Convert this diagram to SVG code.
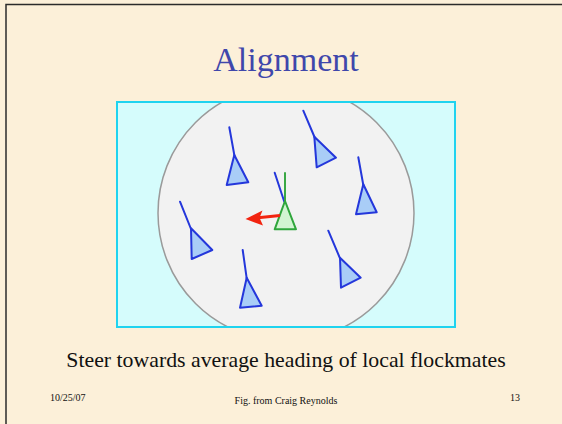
<svg xmlns="http://www.w3.org/2000/svg" width="562" height="424" viewBox="0 0 562 424">
<style>
.serif{font-family:"Liberation Serif","Times New Roman",serif}
.boid polygon{fill:#a9cdf7;stroke:#2437db;stroke-width:2;stroke-linejoin:round}
.tail{stroke:#2437db;stroke-width:2;stroke-linecap:round;fill:none}
.foot{font-size:10px;fill:#111}
</style>
<defs>
<clipPath id="frame"><rect x="117" y="102" width="338" height="225"/></clipPath>
</defs>
<rect width="562" height="424" fill="#fcf0d9"/>
<path d="M6,424 V4.5 H562" fill="none" stroke="#2b2b2b" stroke-width="1.5"/>
<text class="serif" x="286" y="71" font-size="34" text-anchor="middle" fill="#3f47ab">Alignment</text>
<g id="panel">
<rect x="117" y="102" width="338" height="225" fill="#d5fcfc"/>
<circle cx="286" cy="213" r="128" fill="#f2f2f2" stroke="#9a9a9a" stroke-width="1.5" clip-path="url(#frame)"/>
<rect x="117" y="102" width="338" height="225" fill="none" stroke="#1fd3ef" stroke-width="2"/>
</g>
<g id="boid1" class="boid"><line class="tail" x1="229.3" y1="127.3" x2="234.5" y2="156"/><polygon points="234.3,155 226.7,185 248.3,182.3"/></g>
<g id="boid2" class="boid"><line class="tail" x1="303.3" y1="110.7" x2="314.5" y2="137"/><polygon points="314.3,136.7 316.7,167.3 336,157.7"/></g>
<g id="boid3" class="boid"><line class="tail" x1="358.3" y1="157.3" x2="363.3" y2="185"/><polygon points="363.3,184.3 356,214.3 376.7,212.3"/></g>
<g id="boid4" class="boid"><line class="tail" x1="180" y1="201.7" x2="191" y2="229"/><polygon points="191,228.3 191.7,259 212.3,250"/></g>
<g id="boid5" class="boid"><line class="tail" x1="242.7" y1="250" x2="246.7" y2="278.3"/><polygon points="246.7,277.7 240,307.7 261.7,305.7"/></g>
<g id="boid6" class="boid"><line class="tail" x1="328.3" y1="230.7" x2="340" y2="258.3"/><polygon points="340,257.7 341,287.7 360.7,277.7"/></g>
<g id="focal">
<line class="tail" x1="274.7" y1="172.7" x2="284.3" y2="201.7"/>
<line x1="285" y1="172.3" x2="285" y2="203" stroke="#3aa845" stroke-width="2"/>
<polygon points="285,201 274.7,229.3 296,229.3" fill="#d2f5d2" stroke="#2fa63c" stroke-width="2" stroke-linejoin="round"/>
</g>
<g id="connectors">
<line x1="280" y1="215.6" x2="258" y2="217.8" stroke="#f22410" stroke-width="3"/>
<path d="M245.5,219 L262.5,210.5 L259.5,217.7 L263,225.5 Z" fill="#f22410"/>
</g>
<text class="serif" x="286" y="367" font-size="21.8" text-anchor="middle" fill="#111">Steer towards average heading of local flockmates</text>
<text class="serif foot" x="50" y="401">10/25/07</text>
<text class="serif foot" x="286" y="404" text-anchor="middle">Fig. from Craig Reynolds</text>
<text class="serif foot" x="510" y="401">13</text>
</svg>
